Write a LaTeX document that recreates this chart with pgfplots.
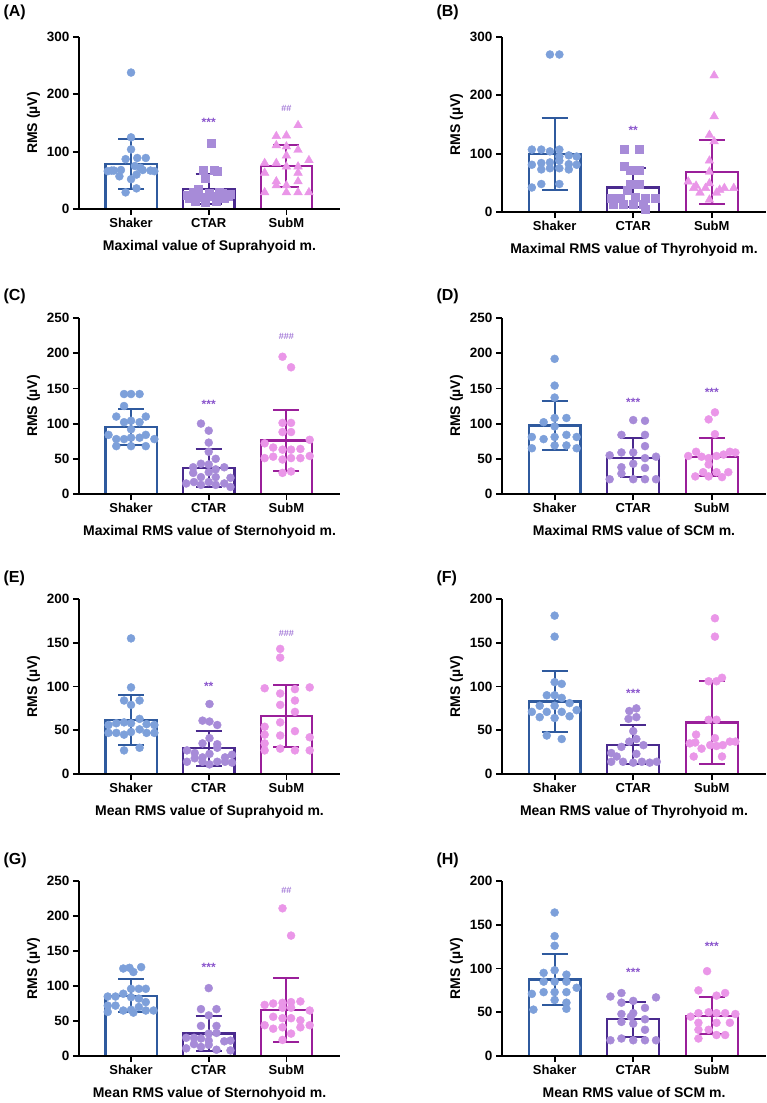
\documentclass[border=0pt]{standalone}
\usepackage{fontspec}
\setmainfont{Liberation Sans}
\usepackage{pgfplots}
\pgfplotsset{compat=1.18}

\definecolor{shE}{HTML}{2F5A9E}
\definecolor{shP}{HTML}{7DA0DA}
\definecolor{ctE}{HTML}{4A2A8E}
\definecolor{ctP}{HTML}{A78BD8}
\definecolor{smE}{HTML}{9A1F9A}
\definecolor{smP}{HTML}{EA96E8}
\definecolor{sig}{HTML}{8A55CC}

\pgfplotsset{
  pnl/.style={
    scale only axis, width=261pt, anchor=south west,
    xmin=-0.67, xmax=2.69, ymin=0,
    axis x line*=bottom, axis y line*=left,
    axis line style={line width=1.8pt, black},
    xtick={0,1,2}, xticklabels={Shaker,CTAR,SubM},
    tick style={line width=1.8pt, black}, tick align=outside,
    major tick length=6pt,
    x tick label style={font=\fontsize{13}{13}\selectfont\bfseries},
    y tick label style={font=\fontsize{13.5}{13.5}\selectfont\bfseries},
    /pgf/number format/assume math mode=true,
    ylabel={RMS (µV)},
    ylabel style={font=\fontsize{14}{14}\selectfont\bfseries},
    xlabel style={font=\fontsize{14}{14}\selectfont\bfseries, yshift=-5pt},
    axis on top, clip=false,
  },
  bar/.style={ybar, bar width=0.66, bar shift=0pt, draw=#1, fill=white, line width=2.3pt},
  pts/.style={only marks, color=#1, mark=*, mark size=4pt},
  sq/.style={only marks, color=#1, mark=square*, mark size=4pt},
  tri/.style={only marks, color=#1, mark=triangle*, mark size=5pt},
  err/.style={mark=none, color=#1, error bars/.cd, y dir=both, y explicit,
    error bar style={line width=2pt, draw=#1},
    error mark options={rotate=90, line width=2pt, draw=#1, mark size=13pt}},
}
\newcommand{\sigmark}[3]{\node[font=\fontsize{12}{12}\selectfont\bfseries, text=sig] at (axis cs:#1,#2) {#3};}
\newcommand{\hashmark}[3]{\node[font=\fontsize{9}{9}\selectfont, text=sig] at (axis cs:#1,#2) {#3};}

\begin{document}
\begin{tikzpicture}
\useasboundingbox (0,0) rectangle (767pt,-1103pt);
\tikzset{plab/.style={anchor=west, font=\fontsize{16}{16}\selectfont\bfseries}}
\node[plab] at (0pt,-12pt) {(A)};
\node[plab] at (433pt,-12pt) {(B)};
\node[plab] at (0pt,-296pt) {(C)};
\node[plab] at (433pt,-296pt) {(D)};
\node[plab] at (0pt,-578pt) {(E)};
\node[plab] at (433pt,-578pt) {(F)};
\node[plab] at (0pt,-860pt) {(G)};
\node[plab] at (433pt,-860pt) {(H)};

% (A)
\begin{axis}[pnl, at={(79pt,-209pt)}, height=172pt, ymax=300, ytick={0,100,200,300},
  xlabel={Maximal value of Suprahyoid m.}]
\addplot[bar=shE] coordinates {(0,78)};
\addplot[bar=ctE] coordinates {(1,35)};
\addplot[bar=smE] coordinates {(2,75)};
\addplot[pts=shP] coordinates {(0,238) (0,125) (0,104) (0.08,89) (0.19,89) (-0.07,87) (-0.3,66) (-0.22,67) (-0.13,68) (0.12,72) (0.25,67) (0.3,66) (0.05,75) (-0.15,57) (0,52) (0.07,60) (0.15,68) (0.07,36) (-0.07,29) (-0.25,67)};
\addplot[sq=ctP] coordinates {(1.03,114) (0.96,53) (0.93,68) (1.07,68) (1.11,66) (0.8,30) (0.72,24) (0.87,35) (1,28) (1.13,30) (1.25,22) (0.75,18) (0.9,20) (1.05,22) (1.2,18) (0.83,14) (1.1,14) (1.28,25) (0.95,12) (1.17,28)};
\addplot[tri=smP] coordinates {(2.15,146) (1.87,127) (2,128) (1.87,111) (2,109) (2.15,103) (2,93) (1.72,80) (1.87,80) (2,74) (2.15,74) (2.29,85) (1.72,63) (2.15,63) (1.87,48) (2.15,48) (1.87,41) (2,41) (1.72,29) (2,29) (2.15,29) (2.29,29)};
\addplot[err=shE] coordinates {(0,78) +- (0,43.5)};
\addplot[err=ctE] coordinates {(1,35) +- (0,25.5)};
\addplot[err=smE] coordinates {(2,75) +- (0,37)};
\sigmark{1}{151}{***}
\hashmark{2}{176}{\#\#}
\end{axis}

% (B)
\begin{axis}[pnl, at={(502pt,-212pt)}, width=264pt, height=175pt, ymax=300, ytick={0,100,200,300},
  xlabel={Maximal RMS value of Thyrohyoid m.}]
\addplot[bar=shE] coordinates {(0,99)};
\addplot[bar=ctE] coordinates {(1,42)};
\addplot[bar=smE] coordinates {(2,68)};
\addplot[pts=shP] coordinates {(-0.06,270) (0.06,270) (-0.29,107) (-0.17,107) (-0.06,104) (0.06,107) (0.06,95) (0.18,97) (0.28,95) (-0.29,81) (-0.17,84) (-0.06,85) (0.06,88) (0.18,82) (0.28,81) (-0.06,75) (0.06,75) (0.18,73) (-0.17,73) (0.06,48) (-0.17,48) (-0.29,42)};
\addplot[sq=ctP] coordinates {(0.89,107) (1.07,107) (0.96,72) (1.07,72) (0.89,78) (0.96,48) (1.07,48) (0.92,37) (0.72,23) (0.83,23) (1.02,26) (1.15,23) (1.28,23) (0.75,14) (0.87,14) (1,14) (1.13,14) (1.15,5)};
\addplot[tri=smP] coordinates {(2.03,234) (2.03,164) (1.97,132) (2.03,121) (1.97,88) (1.97,69) (1.7,52) (1.97,49) (1.77,41) (1.85,33) (1.92,41) (2.06,33) (2.16,41) (2.28,41) (1.97,21) (1.8,45) (2.1,38)};
\addplot[err=shE] coordinates {(0,99) +- (0,61.5)};
\addplot[err=ctE] coordinates {(1,42) +- (0,33)};
\addplot[err=smE] coordinates {(2,68) +- (0,55)};
\sigmark{1}{140}{**}
\end{axis}

% (C)
\begin{axis}[pnl, at={(79pt,-494pt)}, height=176pt, ymax=250, ytick={0,50,...,250},
  xlabel={Maximal RMS value of Sternohyoid m.}]
\addplot[bar=shE] coordinates {(0,95)};
\addplot[bar=ctE] coordinates {(1,36.5)};
\addplot[bar=smE] coordinates {(2,76)};
\addplot[pts=shP] coordinates {(-0.09,142) (0,142) (0.11,142) (-0.09,125) (-0.19,110) (0.19,110) (0,104) (-0.09,102) (0.11,102) (0,92) (-0.29,84) (0.19,84) (-0.19,78) (-0.09,78) (0,80) (0.11,80) (0.3,78) (-0.19,68) (0,68) (0.19,68)};
\addplot[pts=ctP] coordinates {(0.9,100) (1,90) (1,73) (1,60) (1.09,50) (0.9,43) (1,42) (0.8,38) (1.2,38) (1.09,35) (0.8,30) (1,31) (0.9,24) (1.09,24) (1.28,23) (0.71,15) (0.81,17) (0.9,13) (1,17) (1.09,13) (1.2,15) (1.28,10)};
\addplot[pts=smP] coordinates {(1.95,195) (2.06,180) (1.95,101) (2.06,101) (1.95,88) (2.06,88) (2.3,77) (1.72,72) (1.83,66) (1.95,63) (2.06,63) (2.18,64) (1.72,51) (1.83,53) (1.95,49) (2.06,51) (2.18,51) (2.3,54) (1.95,30) (2.06,32)};
\addplot[err=shE] coordinates {(0,95) +- (0,25.5)};
\addplot[err=ctE] coordinates {(1,36.5) +- (0,27)};
\addplot[err=smE] coordinates {(2,76) +- (0,43)};
\sigmark{1}{127}{***}
\hashmark{2}{224}{\#\#\#}
\end{axis}

% (D)
\begin{axis}[pnl, at={(502pt,-494pt)}, width=264pt, height=176pt, ymax=250, ytick={0,50,...,250},
  xlabel={Maximal RMS value of SCM m.}]
\addplot[bar=shE] coordinates {(0,97.5)};
\addplot[bar=ctE] coordinates {(1,51.5)};
\addplot[bar=smE] coordinates {(2,53)};
\addplot[pts=shP] coordinates {(0,192) (0,154) (0,137) (0,108) (-0.14,102) (0.15,108) (0,96) (-0.29,81) (-0.14,78) (0,81) (0.15,84) (0.28,81) (0,69) (0.15,69) (-0.29,65) (0.28,65)};
\addplot[pts=ctP] coordinates {(1,105) (1.15,104) (0.85,84) (1.15,84) (1.15,68) (0.85,59) (1,59) (0.7,55) (1.15,51) (1.29,53) (1,43) (0.85,38) (1.15,37) (0.85,29) (0.7,21) (1,21) (1.15,21) (1.29,21)};
\addplot[pts=smP] coordinates {(2.04,116) (1.96,106) (2.04,85) (1.8,60) (1.7,54) (1.87,53) (1.96,51) (2.06,54) (2.15,56) (2.23,60) (2.3,59) (1.96,42) (1.89,31) (2.06,31) (2.21,31) (1.79,25) (1.96,25) (2.13,24)};
\addplot[err=shE] coordinates {(0,97.5) +- (0,34.5)};
\addplot[err=ctE] coordinates {(1,51.5) +- (0,28)};
\addplot[err=smE] coordinates {(2,53) +- (0,27)};
\sigmark{1}{130}{***}
\sigmark{2}{145}{***}
\end{axis}

% (E)
\begin{axis}[pnl, at={(79pt,-774pt)}, height=175pt, ymax=200, ytick={0,50,...,200},
  xlabel={Mean RMS value of Suprahyoid m.}]
\addplot[bar=shE] coordinates {(0,61.5)};
\addplot[bar=ctE] coordinates {(1,29.5)};
\addplot[bar=smE] coordinates {(2,66)};
\addplot[pts=shP] coordinates {(0,155) (0,99) (-0.09,84) (0.11,84) (0,79) (0.11,63) (-0.29,56) (-0.19,58) (-0.09,59) (0,58) (0.2,57) (0.3,56) (0.11,51) (-0.29,47) (-0.19,47) (-0.09,45) (0,48) (0.2,47) (0.3,47) (0.11,30) (-0.09,27)};
\addplot[pts=ctP] coordinates {(1.01,80) (0.92,61) (1.01,60) (1.11,56) (1.01,41) (0.92,35) (1.11,34) (0.72,27) (0.82,24) (0.92,19) (1.01,23) (1.11,30) (1.21,19) (1.3,22) (0.72,14) (0.82,18) (0.92,14) (1.01,11) (1.11,14) (1.21,14) (1.3,13)};
\addplot[pts=smP] coordinates {(1.92,143) (1.92,133) (1.72,98) (1.92,92) (2.11,97) (2.3,99) (1.92,79) (2.11,84) (2.11,71) (1.72,54) (1.92,59) (2.11,49) (1.72,45) (1.92,44) (2.3,42) (1.72,35) (1.72,27) (1.92,29) (2.11,27) (2.3,27)};
\addplot[err=shE] coordinates {(0,61.5) +- (0,28.5)};
\addplot[err=ctE] coordinates {(1,29.5) +- (0,20)};
\addplot[err=smE] coordinates {(2,66) +- (0,35.5)};
\sigmark{1}{100}{**}
\hashmark{2}{161}{\#\#\#}
\end{axis}

% (F)
\begin{axis}[pnl, at={(502pt,-774pt)}, width=264pt, height=175pt, ymax=200, ytick={0,50,...,200},
  xlabel={Mean RMS value of Thyrohyoid m.}]
\addplot[bar=shE] coordinates {(0,83)};
\addplot[bar=ctE] coordinates {(1,33.5)};
\addplot[bar=smE] coordinates {(2,59)};
\addplot[pts=shP] coordinates {(0,181) (0,157) (0,105) (0.09,103) (-0.1,90) (0,90) (0.09,87) (-0.19,78) (0,78) (0.19,81) (-0.29,71) (-0.1,71) (0.09,71) (0.28,73) (-0.19,65) (0.19,66) (0,64) (-0.1,44) (0.09,40)};
\addplot[pts=ctP] coordinates {(0.95,72) (1.04,75) (0.94,63) (1.04,65) (1,49) (1.04,40) (0.85,31) (1.13,33) (1.04,23) (0.72,24) (0.79,20) (0.72,14) (0.87,14) (1,13) (1.11,14) (1.21,13) (1.3,14) (0.95,37)};
\addplot[pts=smP] coordinates {(2.04,178) (2.04,157) (2.13,110) (1.96,106) (2.06,106) (1.96,62) (2.06,62) (1.8,45) (1.72,35) (2.04,41) (1.87,29) (1.98,33) (2.06,32) (2.14,33) (2.23,37) (2.3,37) (1.77,20) (2.13,20) (1.79,36)};
\addplot[err=shE] coordinates {(0,83) +- (0,35)};
\addplot[err=ctE] coordinates {(1,33.5) +- (0,22)};
\addplot[err=smE] coordinates {(2,59) +- (0,47)};
\sigmark{1}{92}{***}
\end{axis}

% (G)
\begin{axis}[pnl, at={(79pt,-1056pt)}, height=175pt, ymax=250, ytick={0,50,...,250},
  xlabel={Mean RMS value of Sternohyoid m.}]
\addplot[bar=shE] coordinates {(0,86)};
\addplot[bar=ctE] coordinates {(1,32)};
\addplot[bar=smE] coordinates {(2,66)};
\addplot[pts=shP] coordinates {(-0.1,125) (-0.02,126) (0.13,127) (0.03,120) (0,96) (0.1,96) (0.19,96) (-0.1,89) (-0.3,85) (-0.2,85) (0,84) (0.1,82) (0.19,77) (-0.3,72) (-0.2,72) (-0.1,65) (0,66) (0.1,70) (0.29,65) (-0.3,63) (0.03,62) (0.19,65)};
\addplot[pts=ctP] coordinates {(1,97) (0.9,67) (1.1,67) (1,58) (0.9,43) (1.1,43) (1,32) (0.81,26) (0.9,25) (1.1,33) (1.2,21) (0.71,26) (0.81,17) (1,22) (1.28,22) (0.71,11) (0.9,13) (1.1,9) (1.28,8) (1,16)};
\addplot[pts=smP] coordinates {(1.95,211) (2.06,172) (2.06,77) (2.18,78) (1.83,75) (1.95,76) (1.72,73) (1.95,69) (2.06,69) (2.3,65) (1.83,56) (1.95,54) (2.06,54) (2.18,51) (1.72,44) (2.3,44) (1.83,39) (1.95,41) (2.18,41) (2.06,32) (1.95,23)};
\addplot[err=shE] coordinates {(0,86) +- (0,23.5)};
\addplot[err=ctE] coordinates {(1,32) +- (0,24.5)};
\addplot[err=smE] coordinates {(2,66) +- (0,45.5)};
\sigmark{1}{126}{***}
\hashmark{2}{237}{\#\#}
\end{axis}

% (H)
\begin{axis}[pnl, at={(502pt,-1056pt)}, width=264pt, height=175pt, ymax=200, ytick={0,50,...,200},
  xlabel={Mean RMS value of SCM m.}]
\addplot[bar=shE] coordinates {(0,87.5)};
\addplot[bar=ctE] coordinates {(1,42)};
\addplot[bar=smE] coordinates {(2,46)};
\addplot[pts=shP] coordinates {(0,164) (0,137) (0,126) (0,98) (-0.14,95) (0.15,93) (-0.14,85) (0,85) (0.15,85) (-0.29,71) (-0.14,73) (0,73) (0.15,73) (0.28,78) (0,64) (0.15,61) (-0.27,53) (0.15,54)};
\addplot[pts=ctP] coordinates {(0.71,68) (0.85,72) (1.29,67) (1,63) (0.85,61) (1.15,55) (0.85,48) (1,49) (1.15,42) (0.85,39) (1,37) (1.15,30) (0.71,18) (0.85,20) (1,18) (1.15,18) (1.29,18) (0.97,45)};
\addplot[pts=smP] coordinates {(1.94,97) (1.83,75) (2.17,72) (2.06,69) (1.83,49) (1.96,50) (2.06,49) (2.17,49) (2.3,48) (1.73,45) (1.83,38) (2.06,38) (2.23,38) (1.83,30) (1.96,30) (1.83,20) (2.06,24) (2.17,24)};
\addplot[err=shE] coordinates {(0,87.5) +- (0,29.5)};
\addplot[err=ctE] coordinates {(1,42) +- (0,20)};
\addplot[err=smE] coordinates {(2,46) +- (0,21)};
\sigmark{1}{96}{***}
\sigmark{2}{125}{***}
\end{axis}
\end{tikzpicture}
\end{document}
